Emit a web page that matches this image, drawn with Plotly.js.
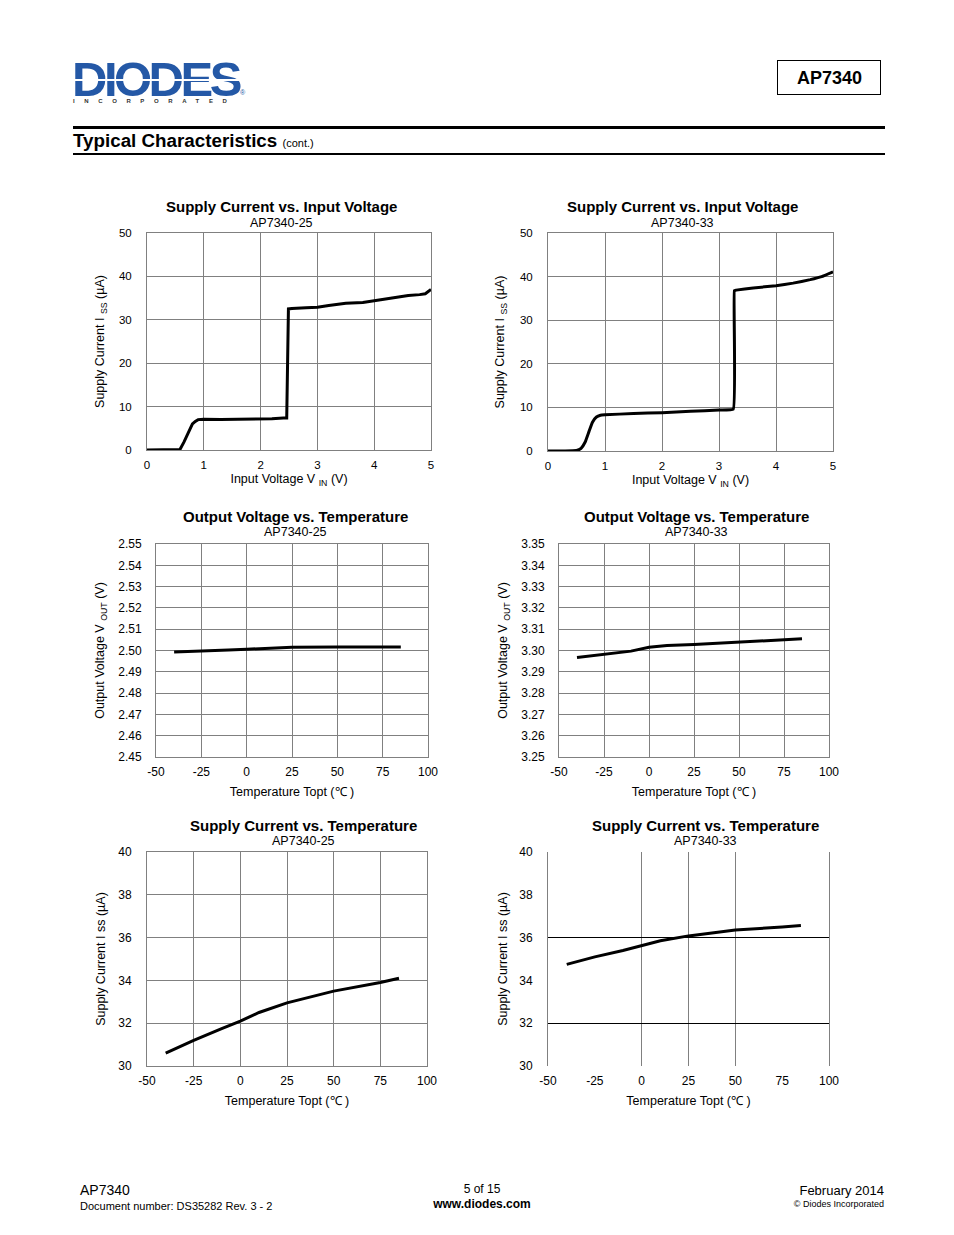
<!DOCTYPE html>
<html>
<head>
<meta charset="utf-8">
<script src="https://cdn.plot.ly/plotly-3.0.1.min.js"></script>
<style>
  html, body { margin:0; padding:0; background:#fff; }
  body { width:954px; height:1235px; position:relative; overflow:hidden; font-family:"Liberation Sans", Arial, sans-serif; }
  #chart { position:absolute; left:0; top:0; width:954px; height:1235px; }
  .t { position:absolute; white-space:nowrap; color:#000; }
</style>
</head>
<body>
<div id="chart"></div>

<!-- header -->
<div class="t" style="left:72px; top:61px; font-size:49px; font-weight:bold; color:#2458a6; letter-spacing:-3.5px; line-height:36px;">DIODES</div>
<div style="position:absolute; left:72px; top:79px; width:170px; height:2px; background:#fff;"></div>
<div class="t" style="left:240px; top:89px; font-size:7px; line-height:8px; color:#2458a6;">®</div>
<div class="t" style="left:73px; top:98px; font-size:6px; font-weight:bold; color:#333; letter-spacing:9.6px; line-height:7px;">INCORPORATED</div>
<div style="position:absolute; left:777px; top:60px; width:102px; height:33px; border:1px solid #000; box-sizing:content-box;"></div>
<div class="t" style="left:778px; top:62px; width:103px; height:33px; line-height:33px; text-align:center; font-size:18px; font-weight:bold;">AP7340</div>
<div style="position:absolute; left:73px; top:126px; width:812px; height:3px; background:#000;"></div>
<div class="t" style="left:73px; top:130px; line-height:22px; font-size:18.8px; font-weight:bold;">Typical Characteristics <span style="font-size:11px; font-weight:normal;">(cont.)</span></div>
<div style="position:absolute; left:73px; top:153px; width:812px; height:2px; background:#000;"></div>

<!-- footer -->
<div class="t" style="left:80px; top:1182px; line-height:16px; font-size:14px;">AP7340</div>
<div class="t" style="left:80px; top:1199px; line-height:14px; font-size:11px;">Document number: DS35282 Rev. 3 - 2</div>
<div class="t" style="left:382px; width:200px; text-align:center; top:1182px; line-height:14px; font-size:12px;">5 of 15</div>
<div class="t" style="left:382px; width:200px; text-align:center; top:1197px; line-height:14px; font-size:12px; font-weight:bold;">www.diodes.com</div>
<div class="t" style="right:70px; top:1183px; line-height:15px; font-size:13px; text-align:right;">February 2014</div>
<div class="t" style="right:70px; top:1198px; line-height:12px; font-size:9px; text-align:right;">© Diodes Incorporated</div>

<script>
// ---- data ----
const vin25 = [0, 0.3, 0.58, 0.65, 0.72, 0.8, 0.85, 0.9, 1.0, 1.3, 1.6, 2.0, 2.2, 2.4, 2.46, 2.49, 2.55, 2.8, 3.0, 3.2, 3.5, 3.8, 4.0, 4.2, 4.4, 4.6, 4.8, 4.9, 5.0];
const iss25 = [0, 0.1, 0.1, 1.8, 3.6, 6.0, 6.6, 7.0, 7.1, 7.0, 7.1, 7.1, 7.2, 7.4, 7.4, 32.5, 32.6, 32.8, 32.9, 33.3, 33.8, 34.0, 34.4, 34.9, 35.2, 35.6, 35.8, 36.0, 37.0];

const vin33 = [0, 0.3, 0.5, 0.58, 0.65, 0.72, 0.78, 0.85, 0.92, 1.0, 1.5, 2.0, 2.5, 3.0, 3.25, 3.27, 3.3, 3.6, 4.0, 4.3, 4.6, 4.8, 5.0];
const iss33 = [0, 0, 0.1, 0.6, 2.0, 4.5, 6.6, 7.8, 8.2, 8.3, 8.6, 8.8, 9.1, 9.4, 9.6, 36.8, 36.9, 37.4, 37.9, 38.5, 39.3, 40.0, 41.1];

const temp = [-40, -25, -10, 0, 10, 25, 50, 75, 85];
const vout25 = [2.4993, 2.4996, 2.5002, 2.5006, 2.5010, 2.5015, 2.5017, 2.5017, 2.5017];
const vout33 = [3.2967, 3.2983, 3.2997, 3.3015, 3.3023, 3.3028, 3.3039, 3.3048, 3.3055];
const issT25 = [30.6, 31.2, 31.75, 32.1, 32.5, 32.95, 33.5, 33.9, 34.1];
const issT33 = [34.75, 35.1, 35.4, 35.62, 35.85, 36.08, 36.35, 36.5, 36.56];

const vinTicks = [0, 1, 2, 3, 4, 5];
const issTicks = [0, 10, 20, 30, 40, 50];
const tempTicks = [-50, -25, 0, 25, 50, 75, 100];
const tempLabels = ['-50', '-25', '0', '25', '50', '75', '100'];
const vout25Ticks = [2.45, 2.46, 2.47, 2.48, 2.49, 2.50, 2.51, 2.52, 2.53, 2.54, 2.55];
const vout33Ticks = [3.25, 3.26, 3.27, 3.28, 3.29, 3.30, 3.31, 3.32, 3.33, 3.34, 3.35];
const issTTicks = [30, 32, 34, 36, 38, 40];
const p6GridX = [0, 25, 50];
const p6GridY = [32, 36];

const titles = [
  ["Supply Current vs. Input Voltage", "AP7340-25"],
  ["Supply Current vs. Input Voltage", "AP7340-33"],
  ["Output Voltage vs. Temperature", "AP7340-25"],
  ["Output Voltage vs. Temperature", "AP7340-33"],
  ["Supply Current vs. Temperature", "AP7340-25"],
  ["Supply Current vs. Temperature", "AP7340-33"]
];

// ---- layout helpers ----
const W = 954, H = 1235;
const FONT = '"Liberation Sans", Arial, sans-serif';
const dx = (a, b) => [a / W, b / W];
const dy = (top, bot) => [1 - bot / H, 1 - top / H];
const GRID = '#808080';

// pixel boxes [left, right, top, bottom]
const boxes = [
  [147, 431, 233, 450],
  [548, 833, 233, 451],
  [156, 428, 544, 757],
  [559, 829, 544, 757],
  [147, 427, 852, 1066],
  [548, 829, 852, 1066]
];
const titleCx = [281, 682, 295, 696, 303, 705];
const titleY = [207, 207, 516, 516, 825, 825];

function xax(i, ticks, labels, range, title, fs, tlen, standoff) {
  const a = {
    domain: dx(boxes[i][0], boxes[i][1]), anchor: 'y' + (i + 1),
    range: range, tickmode: 'array', tickvals: ticks,
    ticks: 'outside', ticklen: tlen, tickcolor: 'rgba(0,0,0,0)',
    showgrid: true, gridcolor: GRID, gridwidth: 1, zeroline: false,
    showline: true, mirror: true, linecolor: GRID, linewidth: 1,
    tickfont: {family: FONT, size: fs, color: '#000'},
    title: {text: title, font: {family: FONT, size: 12.5, color: '#000'}, standoff: standoff},
    fixedrange: true
  };
  if (labels) a.ticktext = labels;
  return a;
}
function yax(i, ticks, range, title, fs, tickformat, tlen, standoff) {
  return {
    domain: dy(boxes[i][2], boxes[i][3]), anchor: 'x' + (i + 1),
    range: range, tickmode: 'array', tickvals: ticks, tickformat: tickformat,
    ticks: 'outside', ticklen: tlen, tickcolor: 'rgba(0,0,0,0)',
    showgrid: true, gridcolor: GRID, gridwidth: 1, zeroline: false,
    showline: true, mirror: true, linecolor: GRID, linewidth: 1,
    tickfont: {family: FONT, size: fs, color: '#000'},
    title: {text: title, font: {family: FONT, size: 12.5, color: '#000'}, standoff: standoff},
    fixedrange: true
  };
}

const tIn = 'Input Voltage V <sub>IN</sub> (V)';
const tIss = 'Supply Current I <sub>SS</sub> (µA)';
const tVout = 'Output Voltage V <sub>OUT</sub> (V)';
const tTemp = 'Temperature Topt (℃ )';
const tIss2 = 'Supply Current I ss (µA)';

const layout = {
  width: W, height: H,
  margin: {l: 0, r: 0, t: 0, b: 0},
  paper_bgcolor: 'rgba(0,0,0,0)', plot_bgcolor: 'rgba(0,0,0,0)',
  showlegend: false,
  xaxis: xax(0, vinTicks, null, [0, 5], tIn, 11.5, 4, 4),
  yaxis: yax(0, issTicks, [0, 50], tIss, 11.5, 'd', 12, 11),
  xaxis2: xax(1, vinTicks, null, [0, 5], tIn, 11.5, 4, 4),
  yaxis2: yax(1, issTicks, [0, 50], tIss, 11.5, 'd', 12, 12),
  xaxis3: xax(2, tempTicks, tempLabels, [-50, 100], tTemp, 12, 4, 8),
  yaxis3: yax(2, vout25Ticks, [2.45, 2.55], tVout, 12, '.2f', 11, 10),
  xaxis4: xax(3, tempTicks, tempLabels, [-50, 100], tTemp, 12, 4, 8),
  yaxis4: yax(3, vout33Ticks, [3.25, 3.35], tVout, 12, '.2f', 11, 10),
  xaxis5: xax(4, tempTicks, tempLabels, [-50, 100], tTemp, 12, 4, 8),
  yaxis5: yax(4, issTTicks, [30, 40], tIss2, 12, 'd', 12, 9),
  xaxis6: Object.assign(xax(5, tempTicks, tempLabels, [-50, 100], tTemp, 12, 4, 8), {showgrid: false, showline: false, mirror: false}),
  yaxis6: Object.assign(yax(5, issTTicks, [30, 40], tIss2, 12, 'd', 12, 8), {showgrid: false, showline: true, mirror: true, linecolor: GRID}),
  xaxis7: {overlaying: 'x6', anchor: 'y7', range: [-50, 100], tickmode: 'array', tickvals: p6GridX,
           showticklabels: false, ticks: '', showgrid: true, gridcolor: GRID, gridwidth: 1, zeroline: false, showline: false, fixedrange: true},
  yaxis7: {overlaying: 'y6', anchor: 'x7', range: [30, 40], tickmode: 'array', tickvals: p6GridY,
           showticklabels: false, ticks: '', showgrid: true, gridcolor: '#000', gridwidth: 1, zeroline: false, showline: false, fixedrange: true},
  annotations: []
};

titles.forEach((t, i) => {
  layout.annotations.push({
    xref: 'paper', yref: 'paper', x: titleCx[i] / W, y: 1 - titleY[i] / H,
    xanchor: 'center', yanchor: 'middle', showarrow: false,
    text: '<b>' + t[0] + '</b>', font: {family: FONT, size: 15, color: '#000'}
  });
  layout.annotations.push({
    xref: 'paper', yref: 'paper', x: titleCx[i] / W, y: 1 - (titleY[i] + 16) / H,
    xanchor: 'center', yanchor: 'middle', showarrow: false,
    text: t[1], font: {family: FONT, size: 12.5, color: '#000'}
  });
});

const line = {color: '#000', width: 3};
const data = [
  {x: vin25, y: iss25, xaxis: 'x', yaxis: 'y', mode: 'lines', line: line, hoverinfo: 'skip'},
  {x: vin33, y: iss33, xaxis: 'x2', yaxis: 'y2', mode: 'lines', line: Object.assign({shape: 'spline', smoothing: 0.3}, line), hoverinfo: 'skip'},
  {x: temp, y: vout25, xaxis: 'x3', yaxis: 'y3', mode: 'lines', line: line, hoverinfo: 'skip'},
  {x: temp, y: vout33, xaxis: 'x4', yaxis: 'y4', mode: 'lines', line: line, hoverinfo: 'skip'},
  {x: temp, y: issT25, xaxis: 'x5', yaxis: 'y5', mode: 'lines', line: line, hoverinfo: 'skip'},
  {x: [], y: [], xaxis: 'x7', yaxis: 'y7', mode: 'lines', hoverinfo: 'skip'},
  {x: temp, y: issT33, xaxis: 'x6', yaxis: 'y6', mode: 'lines', line: line, hoverinfo: 'skip'}
];

Plotly.newPlot('chart', data, layout, {staticPlot: true, displayModeBar: false});
</script>
</body>
</html>
